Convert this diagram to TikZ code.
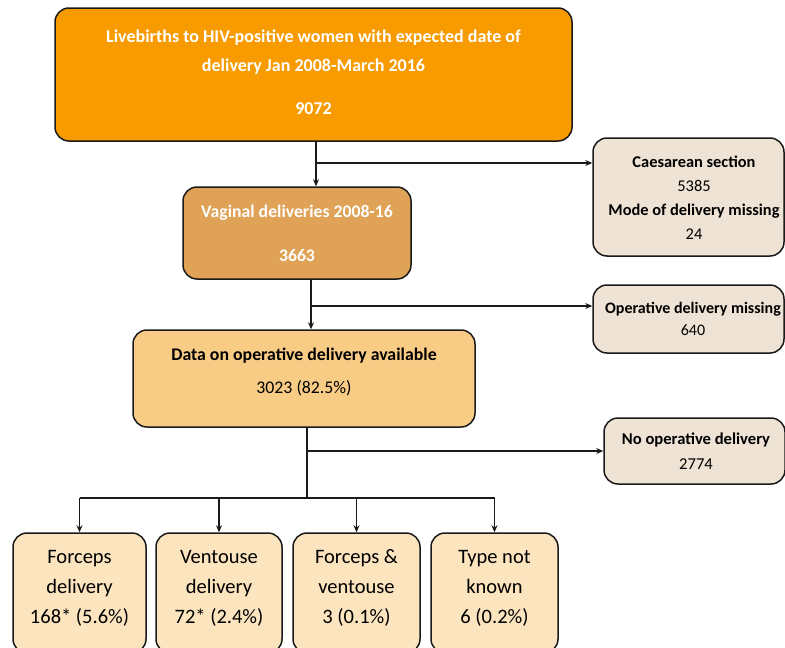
\documentclass[tikz,border=0pt]{standalone}
\usepackage{fontspec}
\setmainfont{Carlito}
\usetikzlibrary{arrows.meta}
\definecolor{cTop}{HTML}{F79B00}
\definecolor{cVag}{HTML}{DFA257}
\definecolor{cData}{HTML}{F9CC86}
\definecolor{cLeaf}{HTML}{FCE4BE}
\definecolor{cSide}{HTML}{EEE3D4}
\definecolor{cLine}{HTML}{1A1A1A}
\tikzset{
  box/.style={draw=cLine, line width=1.5pt, rounded corners=14pt, inner sep=0pt},
  txt/.style={align=center, inner sep=0pt},
  conn/.style={draw=cLine, line width=1.3pt},
  arr/.style={conn, -{Stealth[length=7pt,width=6pt]}},
}
\begin{document}
\begin{tikzpicture}[x=1pt,y=-1pt]
\useasboundingbox (0,0) rectangle (785,648);
% boxes
\node[box, fill=cTop, minimum width=517pt, minimum height=133pt] (top) at (313.5,74.5) {};
\node[box, fill=cVag, minimum width=228pt, minimum height=92pt] (vag) at (297,233) {};
\node[box, fill=cSide, minimum width=191pt, minimum height=118pt] (caes) at (688.5,197) {};
\node[box, fill=cSide, minimum width=191pt, minimum height=68pt] (opm) at (688.5,319) {};
\node[box, fill=cData, minimum width=342pt, minimum height=97pt] (data) at (304,378.5) {};
\node[box, fill=cSide, minimum width=181pt, minimum height=66pt] (noop) at (694.5,451) {};
\node[box, fill=cLeaf, minimum width=133pt, minimum height=120pt] (b1) at (79.5,593) {};
\node[box, fill=cLeaf, minimum width=126pt, minimum height=120pt] (b2) at (219,593) {};
\node[box, fill=cLeaf, minimum width=127pt, minimum height=120pt] (b3) at (356.5,593) {};
\node[box, fill=cLeaf, minimum width=127pt, minimum height=120pt] (b4) at (494.5,593) {};
% texts
\node[txt, text=white, font=\fontsize{18}{29}\selectfont\bfseries] (topT) at (313.5,72)
  {Livebirths to HIV-positive women with expected date of\\delivery Jan 2008-March 2016\\[14pt]9072};
\node[txt, text=white, font=\fontsize{17.7}{44}\selectfont\bfseries] (vagT) at (297,233)
  {Vaginal deliveries 2008-16\\3663};
\node[txt, font=\fontsize{16.4}{24}\selectfont] (caesT) at (694,198)
  {\textbf{Caesarean section}\\5385\\\textbf{Mode of delivery missing}\\24};
\node[txt, font=\fontsize{16}{22}\selectfont] (opmT) at (693,319)
  {\textbf{Operative delivery missing}\\640};
\node[txt, font=\fontsize{17.8}{33}\selectfont] (dataT) at (304,371.5)
  {\textbf{Data on operative delivery available}\\3023 (82.5\%)};
\node[txt, font=\fontsize{16.6}{25}\selectfont] (noopT) at (696,451.5)
  {\textbf{No operative delivery}\\2774};
\node[txt, font=\fontsize{20.5}{30}\selectfont] (b1T) at (79.5,588) {Forceps\\delivery\\168* (5.6\%)};
\node[txt, font=\fontsize{20.5}{30}\selectfont] (b2T) at (219,588) {Ventouse\\delivery\\72* (2.4\%)};
\node[txt, font=\fontsize{20.5}{30}\selectfont] (b3T) at (356.5,588) {Forceps \&\\ventouse\\3 (0.1\%)};
\node[txt, font=\fontsize{20.5}{30}\selectfont] (b4T) at (494.5,588) {Type not\\known\\6 (0.2\%)};
% junctions
\coordinate (j1) at (316,163);
\coordinate (j2) at (311,306);
\coordinate (j3) at (307,451);
\coordinate (j4) at (307,498);
\coordinate (hl) at (79.5,498);
\coordinate (hr) at (494.5,498);
% connectors
\draw[conn] (top.south -| j1) -- (j1);
\draw[arr] (j1) -- (j1 |- vag.north);
\draw[arr] (j1) -- (j1 -| caes.west);
\draw[conn] (vag.south -| j2) -- (j2);
\draw[arr] (j2) -- (j2 |- data.north);
\draw[arr] (j2) -- (j2 -| opm.west);
\draw[conn] (data.south -| j3) -- (j4);
\draw[arr] (j3) -- (j3 -| noop.west);
\draw[conn] (hl) -- (hr);
\draw[arr] (hl) -- (b1.north);
\draw[arr] (b2.north |- j4) -- (b2.north);
\draw[arr] (b3.north |- j4) -- (b3.north);
\draw[arr] (hr) -- (b4.north);
\end{tikzpicture}
\end{document}
